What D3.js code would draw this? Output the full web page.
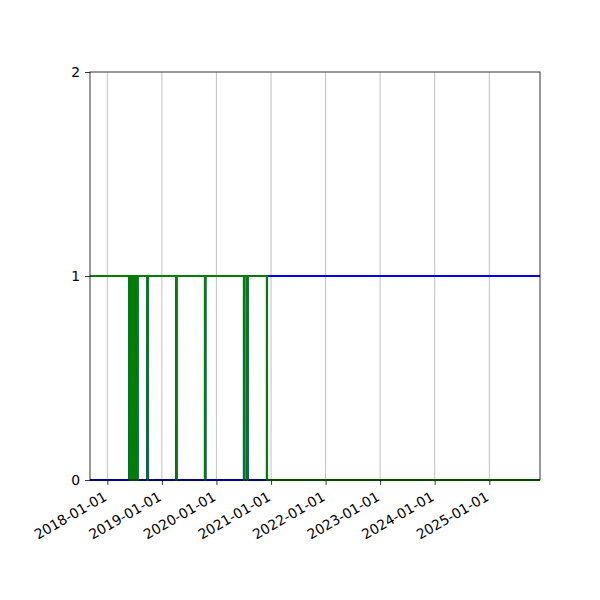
<!DOCTYPE html>
<html>
<head>
<meta charset="utf-8">
<script src="https://cdn.jsdelivr.net/npm/d3@7"></script>
<style>
  body { margin: 0; background: #fff; }
  svg { display: block; font-family: "DejaVu Sans", sans-serif; }
</style>
</head>
<body>
<script>
// Width and height of figure
const width = 600;
const height = 600;
const margin = {left: 90, right: 60, top: 72, bottom: 120};

// dates of the samples (transitions drawn as near-vertical lines)
const dates = [
  "2017-06-01",
  "2018-05-27", "2018-05-28", "2018-05-31", "2018-06-03", "2018-06-06", "2018-06-09",
  "2018-06-12", "2018-06-15", "2018-06-18", "2018-06-21", "2018-06-24", "2018-06-27",
  "2018-06-30", "2018-07-03", "2018-07-06", "2018-07-09", "2018-07-12", "2018-07-15",
  "2018-07-18", "2018-07-22", "2018-07-23",
  "2018-09-25", "2018-09-26", "2018-09-28", "2018-09-29",
  "2019-04-06", "2019-04-07", "2019-04-09", "2019-04-10",
  "2019-10-16", "2019-10-17", "2019-10-19", "2019-10-20",
  "2020-07-03", "2020-07-04", "2020-07-06", "2020-07-07",
  "2020-07-25", "2020-07-26", "2020-07-28", "2020-07-29",
  "2020-12-04", "2020-12-05",
  "2026-06-01"
];

const blueValues = [
  0,
  0, 1, 0, 1, 0, 1,
  0, 1, 0, 1, 0, 1,
  0, 1, 0, 1, 0, 1,
  0, 1, 0,
  0, 1, 1, 0,
  0, 1, 1, 0,
  0, 1, 1, 0,
  0, 1, 1, 0,
  0, 1, 1, 0,
  0, 1,
  1
];

const greenValues = [
  1,
  1, 0, 1, 0, 1, 0,
  1, 0, 1, 0, 1, 0,
  1, 0, 1, 0, 1, 0,
  1, 0, 1,
  1, 0, 0, 1,
  1, 0, 0, 1,
  1, 0, 0, 1,
  1, 0, 0, 1,
  1, 0, 0, 1,
  1, 0,
  0
];

const xTickLabels = ["2018-01-01", "2019-01-01", "2020-01-01", "2021-01-01",
                     "2022-01-01", "2023-01-01", "2024-01-01", "2025-01-01"];
const yTickLabels = [0, 1, 2];

const parse = d3.timeParse("%Y-%m-%d");

const x = d3.scaleTime()
    .domain([parse("2017-09-07"), parse("2025-12-06")])
    .range([margin.left, width - margin.right]);

const y = d3.scaleLinear()
    .domain([0, 2])
    .range([height - margin.bottom, margin.top]);

const svg = d3.select("body")
    .append("svg")
    .attr("width", width)
    .attr("height", height)
    .attr("viewBox", [0, 0, width, height]);

svg.append("defs").append("clipPath")
    .attr("id", "plot")
  .append("rect")
    .attr("x", margin.left)
    .attr("y", margin.top - 2)
    .attr("width", width - margin.left - margin.right)
    .attr("height", height - margin.top - margin.bottom + 4);

// vertical grid lines at each tick
svg.append("g")
    .selectAll("line")
    .data(xTickLabels)
    .join("line")
    .attr("x1", d => x(parse(d)))
    .attr("x2", d => x(parse(d)))
    .attr("y1", margin.top)
    .attr("y2", height - margin.bottom)
    .attr("stroke", "#b0b0b0")
    .attr("stroke-width", 0.8);

const line = d3.line()
    .x(d => x(d[0]))
    .y(d => y(d[1]));

const series = [
  {color: "#0000ff", values: blueValues},
  {color: "#008000", values: greenValues}
];

svg.append("g")
    .attr("clip-path", "url(#plot)")
    .selectAll("path")
    .data(series)
    .join("path")
    .attr("fill", "none")
    .attr("stroke", d => d.color)
    .attr("stroke-width", 2.1)
    .attr("stroke-linejoin", "round")
    .attr("d", d => line(dates.map((t, i) => [parse(t), d.values[i]])));

// axes
const xAxis = svg.append("g")
    .attr("transform", `translate(0,${height - margin.bottom})`)
    .call(d3.axisBottom(x)
        .tickValues(xTickLabels.map(parse))
        .tickFormat(d3.timeFormat("%Y-%m-%d"))
        .tickSize(4.9)
        .tickSizeOuter(0));

xAxis.select(".domain").remove();
xAxis.selectAll(".tick line").attr("stroke", "#000").attr("stroke-width", 0.8);
xAxis.selectAll(".tick text")
    .attr("fill", "#000")
    .attr("font-size", "13.9px")
    .attr("font-family", "DejaVu Sans")
    .attr("text-anchor", "end")
    .attr("y", 0)
    .attr("dy", 0)
    .attr("transform", "translate(0,19.5) rotate(-30)");

const yAxis = svg.append("g")
    .attr("transform", `translate(${margin.left},0)`)
    .call(d3.axisLeft(y)
        .tickValues(yTickLabels)
        .tickFormat(d3.format("d"))
        .tickSize(4.9)
        .tickPadding(4.9)
        .tickSizeOuter(0));

yAxis.select(".domain").remove();
yAxis.selectAll(".tick line").attr("stroke", "#000").attr("stroke-width", 0.8);
yAxis.selectAll(".tick text")
    .attr("fill", "#000")
    .attr("font-size", "13.9px")
    .attr("font-family", "DejaVu Sans");

// frame around the axes
svg.append("rect")
    .attr("x", margin.left)
    .attr("y", margin.top)
    .attr("width", width - margin.left - margin.right)
    .attr("height", height - margin.top - margin.bottom)
    .attr("fill", "none")
    .attr("stroke", "#000")
    .attr("stroke-width", 0.8);
</script>
</body>
</html>
